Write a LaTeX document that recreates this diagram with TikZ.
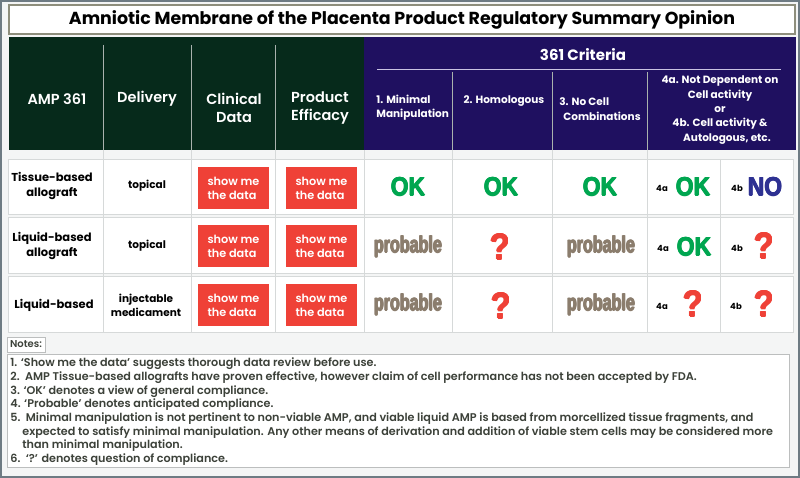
\documentclass[tikz,border=0pt]{standalone}
\usepackage{fontspec}
\setmainfont{Poppins}
\newfontfamily\semifont{Poppins SemiBold}
\newfontfamily\okfont{Liberation Sans}[FakeStretch=0.88]
\newfontfamily\probfont{Liberation Sans}[FakeStretch=0.7]
\newcommand{\heavytxt}[1]{\leavevmode\rlap{\kern0.6pt #1}\rlap{\kern-0.6pt #1}\rlap{\raisebox{0.5pt}{#1}}\rlap{\raisebox{-0.5pt}{#1}}#1}
\definecolor{framegray}{HTML}{6E7B83}
\definecolor{pagebg}{HTML}{F4F5F5}
\definecolor{titleline}{HTML}{8E8E7C}
\definecolor{hdrgreen}{HTML}{062A1B}
\definecolor{hdrpurple}{HTML}{1F1060}
\definecolor{hdrline}{HTML}{A9B2AD}
\definecolor{critline}{HTML}{C9C3E2}
\definecolor{gridgray}{HTML}{D6D9D9}
\definecolor{btnred}{HTML}{EF4137}
\definecolor{okgreen}{HTML}{00A650}
\definecolor{noblue}{HTML}{2E3192}
\definecolor{probbrown}{HTML}{8B7D6D}
\definecolor{notegray}{HTML}{3C4139}
\tikzset{every picture/.style={line width=0.75pt}}

\begin{document}
\begin{tikzpicture}[x=1pt,y=1pt,yscale=-1,xscale=1,
  hdrtxt/.style={text=white,inner sep=0pt,align=center,font=\fontsize{14.5}{18}\selectfont\semifont},
  crittxt/.style={text=white,inner sep=0pt,font=\fontsize{10.5}{14.3}\selectfont\bfseries},
  rowlbl/.style={inner sep=0pt,align=center,font=\fontsize{11.5}{15.5}\selectfont\bfseries},
  dlvlbl/.style={inner sep=0pt,align=center,font=\fontsize{10.5}{14}\selectfont\bfseries},
  datbtn/.style={fill=btnred,text=white,inner sep=0pt,minimum width=71,minimum height=42,align=left,font=\fontsize{11.3}{14}\selectfont\semifont},
  oktxt/.style={text=okgreen,inner sep=0pt,font=\fontsize{26}{26}\selectfont\okfont\bfseries},
  notxt/.style={text=noblue,inner sep=0pt,font=\fontsize{26}{26}\selectfont\okfont\bfseries},
  probtxt/.style={text=probbrown,inner sep=0pt,font=\fontsize{23}{23}\selectfont\probfont\bfseries},
  qtxt/.style={text=btnred,inner sep=0pt,font=\fontsize{37}{37}\selectfont\okfont\bfseries},
  subtxt/.style={inner sep=0pt,font=\fontsize{8.5}{9}\selectfont\bfseries},
  gridline/.style={draw=gridgray,line width=1},
  rowbox/.style={draw=gridgray,fill=white,line width=1}]
%set diagram: 800 x 478
\useasboundingbox (0,0) rectangle (800,478);

%Shape: Rectangle [page]
\draw [framegray, fill=pagebg, line width=2] (1,1) rectangle (799,477);
%Shape: Rectangle [title]
\draw [titleline, fill=white, line width=1.5] (9,5) rectangle (795,34);
\node [inner sep=0pt, font=\fontsize{17.4}{18}\selectfont\bfseries] (title) at (402,19.5) {Amniotic Membrane of the Placenta Product Regulatory Summary Opinion};

%Shape: Rectangle [header]
\fill [hdrgreen] (9,37) rectangle (364,150);
\fill [hdrpurple] (364,37) rectangle (796,150);
\foreach \xx in {103,191,275} \draw [hdrline] (\xx,45) -- (\xx,150);
\foreach \xx in {452,552,647} \draw [hdrline] (\xx,72) -- (\xx,150);
\draw [critline] (377,69) -- (781,69);

%Straight Lines [grid]
\foreach \xx in {103,191,275,364,452,552,647} \draw [gridline] (\xx,150) -- (\xx,333);
\foreach \yt/\yb in {160/215,218/274,277/332} \draw [rowbox] (8,\yt) rectangle (793,\yb);
\foreach \xx in {103,191,275,364,452,552,647} \draw [gridline] (\xx,160) -- (\xx,332);
\draw [gridline] (720,159) -- (720,332);

% Text Node
\node [hdrtxt] (hamp) at (57,99) {AMP 361};
\node [hdrtxt] (hdlv) at (147,99) {Delivery};
\node [hdrtxt] (hcln) at (234,108) {Clinical\\Data};
\node [hdrtxt] (heff) at (320,108) {Product\\Efficacy};
\node [text=white, inner sep=0pt, font=\fontsize{15}{18}\selectfont\bfseries] (hcrit) at (583,55) {361 Criteria};
\node [crittxt, align=left, anchor=west] (hmin) at (376,107.5) {1. Minimal\\Manipulation};
\node [crittxt] (hhom) at (504,101) {2. Homologous};
\node [crittxt, align=left, anchor=west] (hcel) at (559,109) {3. No Cell\\\hspace*{4pt}Combinations};
\node [crittxt, align=center] (hdep) at (720,110) {4a. Not Dependent on\\Cell activity\\or\\4b. Cell activity \&\hspace*{26pt}\\\hspace*{14pt}Autologous, etc.};

% Row labels
\node [rowlbl] (ltis) at (52,186) {Tissue-based\\allograft};
\node [dlvlbl] (dtis) at (147,186) {topical};
\node [rowlbl] (lliq) at (52,246) {Liquid-based\\allograft};
\node [dlvlbl] (dliq) at (147,246) {topical};
\node [rowlbl] (linj) at (54,305) {Liquid-based};
\node [dlvlbl] (dinj) at (146,305) {injectable\\medicament};

% Buttons
\foreach \yy/\nn in {188/1,246/2,305/3} {
  \node [datbtn] (btnc\nn) at (233.5,\yy) {show me\\the data};
  \node [datbtn] (btnp\nn) at (321.5,\yy) {show me\\the data};
}

% Row 1
\node [oktxt] (okmin1) at (408,187) {\heavytxt{OK}};
\node [oktxt] (okhom1) at (501,187) {\heavytxt{OK}};
\node [oktxt] (okcel1) at (600,187) {\heavytxt{OK}};
\node [subtxt] (sa1) at (662,188) {4a};
\node [oktxt] (oka1) at (693,187) {\heavytxt{OK}};
\node [subtxt] (sb1) at (737,188) {4b};
\node [notxt] (nob1) at (765,187) {\heavytxt{NO}};
% Row 2
\node [probtxt] (prmin2) at (408,247) {\heavytxt{probable}};
\node [qtxt] (qhom2) at (500,247) {\heavytxt{?}};
\node [probtxt] (prcel2) at (601,247) {\heavytxt{probable}};
\node [subtxt] (sa2) at (663,248) {4a};
\node [oktxt] (oka2) at (694,247) {\heavytxt{OK}};
\node [subtxt] (sb2) at (737,248) {4b};
\node [qtxt] (qb2) at (764,246) {\heavytxt{?}};
% Row 3
\node [probtxt] (prmin3) at (408,305) {\heavytxt{probable}};
\node [qtxt] (qhom3) at (501,306) {\heavytxt{?}};
\node [probtxt] (prcel3) at (601,305) {\heavytxt{probable}};
\node [subtxt] (sa3) at (662,306) {4a};
\node [qtxt] (qa3) at (693,304) {\heavytxt{?}};
\node [subtxt] (sb3) at (736,306) {4b};
\node [qtxt] (qb3) at (764,304) {\heavytxt{?}};

% Notes
\draw [gridgray!70!gray, fill=white] (7,337) rectangle (45,352);
\node [text=notegray, inner sep=0pt, font=\fontsize{10}{12}\selectfont\semifont] (nlbl) at (26,344.5) {Notes:};
\draw [gridgray!70!gray, fill=white] (7,354) rectangle (789,467);
\node [text=notegray, inner sep=0pt, anchor=north west, align=left, font=\fontsize{11.2}{13.7}\selectfont\semifont] (ntxt) at (10,357.5)
 {1. ‘Show me the data’ suggests thorough data review before use.\\
  2.\ \ AMP Tissue-based allografts have proven effective, however claim of cell performance has not been accepted by FDA.\\
  3. ‘OK’ denotes a view of general compliance.\\
  4. ‘Probable’ denotes anticipated compliance.\\
  5.\ \ Minimal manipulation is not pertinent to non-viable AMP, and viable liquid AMP is based from morcellized tissue fragments, and\\
  \hspace*{12pt}expected to satisfy minimal manipulation. Any other means of derivation and addition of viable stem cells may be considered more\\
  \hspace*{12pt}than minimal manipulation.\\
  6.\ \ ‘?’ denotes question of compliance.};

\end{tikzpicture}
\end{document}
